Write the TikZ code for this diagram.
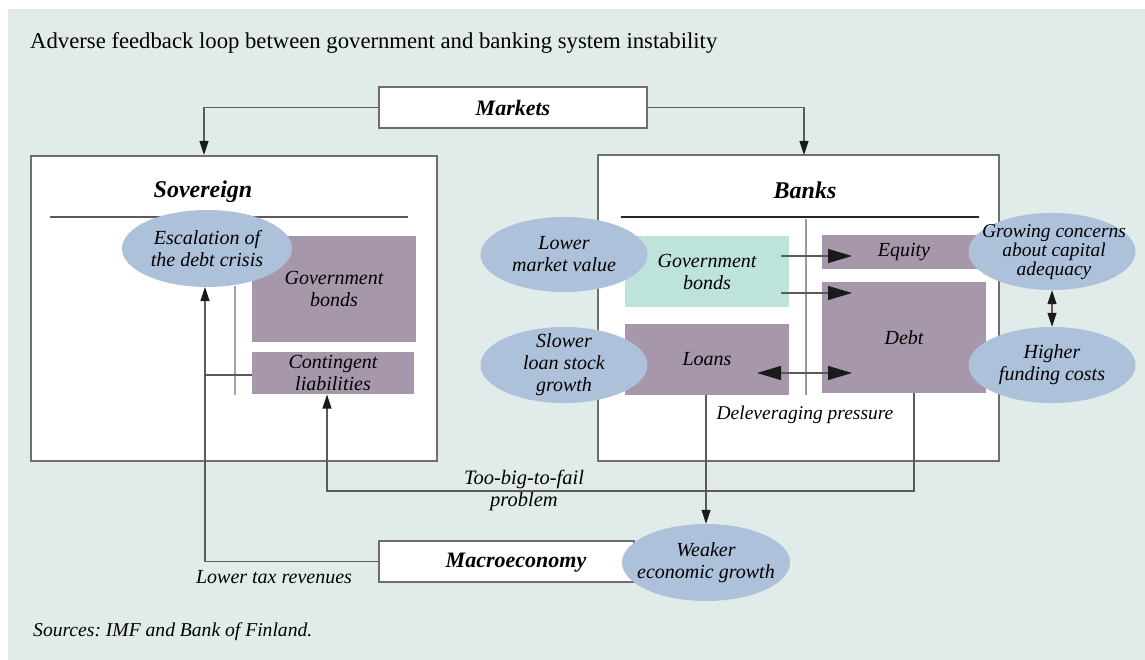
\documentclass[tikz,border=0pt]{standalone}
\usepackage{fontspec}
\setmainfont{Liberation Serif}
\usetikzlibrary{arrows.meta,shapes.geometric,calc}
\definecolor{bgc}{HTML}{E1EBEA}
\definecolor{ellc}{HTML}{ADC1DB}
\definecolor{purc}{HTML}{A797AB}
\definecolor{mintc}{HTML}{BDE3DA}
\definecolor{linec}{HTML}{5A5A5A}
\definecolor{boxc}{HTML}{6E6E6E}
\definecolor{tipc}{HTML}{1A1A1A}
\frenchspacing
\begin{document}
\begin{tikzpicture}[x=1pt,y=-1pt,
  frame/.style={draw=boxc, line width=1.3pt, fill=white, inner sep=0pt},
  hdr/.style={font=\fontsize{22}{26}\selectfont\bfseries\itshape},
  purbox/.style={fill=purc, inner sep=0pt, align=center, font=\fontsize{20}{22}\selectfont\itshape},
  mintbox/.style={fill=mintc, inner sep=0pt, align=center, font=\fontsize{20}{22}\selectfont\itshape},
  ell/.style={ellipse, fill=ellc, inner sep=0pt},
  etxt/.style={inner sep=0pt, align=center, font=\fontsize{20}{22}\selectfont\itshape},
  lbl/.style={inner sep=0pt, align=center, font=\fontsize{19.5}{22}\selectfont\itshape},
  conn/.style={draw=linec, line width=1.1pt},
  arrS/.style={conn, -{Triangle[length=14pt,width=9pt,color=tipc]}},
  arrB/.style={conn, -{Triangle[length=24pt,width=14pt,color=tipc]}},
  arrBB/.style={conn, {Triangle[length=24pt,width=14pt,color=tipc]}-{Triangle[length=24pt,width=14pt,color=tipc]}},
  arrSS/.style={conn, {Triangle[length=14pt,width=9pt,color=tipc]}-{Triangle[length=14pt,width=9pt,color=tipc]}}
]
\useasboundingbox (0,0) rectangle (1145,660);
\fill[white] (0,0) rectangle (1145,660);
\fill[bgc] (8,9) rectangle (1145,660);

% title and source
\node[anchor=base west, inner sep=0pt, font=\fontsize{22.7}{26}\selectfont] (title) at (30,48.5)
  {Adverse feedback loop between government and banking system instability};
\node[anchor=base west, inner sep=0pt, font=\fontsize{19.6}{22}\selectfont\itshape] (src) at (33,636)
  {Sources: IMF and Bank of Finland.};

% main frames
\node[frame, minimum width=268pt, minimum height=41pt, hdr] (markets) at (513,107.5) {Markets};
\node[frame, minimum width=406pt, minimum height=305pt] (sov) at (234,308.5) {};
\node[frame, minimum width=401pt, minimum height=306pt] (banks) at (798.5,308) {};

\node[hdr, font=\fontsize{24}{28}\selectfont\bfseries\itshape, anchor=base] (sovt) at (203,198) {Sovereign};
\node[hdr, font=\fontsize{24}{28}\selectfont\bfseries\itshape, anchor=base] (bankt) at (805,199) {Banks};

% sovereign internals
\draw[draw=linec, line width=1.1pt] (50,217) -- (408,217);
\draw[draw=black!35, line width=1.6pt] (235,286) -- (235,395);
\node[purbox, minimum width=164pt, minimum height=106pt] (sgb) at (334,289) {Government\\bonds};
\node[purbox, minimum width=162pt, minimum height=42pt] (cont) at (333,373) {Contingent\\liabilities};
\node[ell, minimum width=170pt, minimum height=77pt] (esc) at (207,248.5) {};
\node[etxt] (esc-t) at (esc) {Escalation of\\the debt crisis};

% banks internals
\draw[draw=black!85, line width=1.1pt] (621,217) -- (979,217);
\node[mintbox, minimum width=164pt, minimum height=71pt] (bgb) at (707,271.5) {Government\\bonds};
\node[purbox, minimum width=164pt, minimum height=71pt] (loans) at (707,359.5) {Loans};
\node[purbox, minimum width=164pt, minimum height=34pt] (equity) at (904,252) {Equity};
\node[purbox, minimum width=164pt, minimum height=111pt] (debt) at (904,337.5) {Debt};
\draw[draw=black!40, line width=1.6pt] (806,219) -- (806,395);

\node[ell, minimum width=167pt, minimum height=75pt] (lmv) at (564,254.5) {};
\node[etxt] (lmv-t) at (lmv) {Lower\\market value};
\node[ell, minimum width=167pt, minimum height=76pt] (slg) at (564,365) {};
\node[etxt] (slg-t) at (slg) {Slower\\loan stock\\growth};
\node[ell, minimum width=167pt, minimum height=77pt] (gcc) at (1052,251.5) {};
\node[etxt, font=\fontsize{19.5}{19}\selectfont\itshape] (gcc-t) at (1054,252) {Growing concerns\\about capital\\adequacy};
\node[ell, minimum width=167pt, minimum height=76pt] (hfc) at (1052,365) {};
\node[etxt] (hfc-t) at (hfc) {Higher\\funding costs};

% macroeconomy
\node[frame, minimum width=255pt, minimum height=41pt] (macro) at (506.5,561.5) {};
\node[hdr] (macro-t) at (516,563) {Macroeconomy};
\node[ell, minimum width=168pt, minimum height=77pt] (weg) at (706,562.5) {};
\node[etxt] (weg-t) at (weg) {Weaker\\economic growth};

% labels
\node[lbl] (delev) at (805,415) {Deleveraging pressure};
\node[lbl, anchor=base, font=\fontsize{20.5}{22}\selectfont\itshape] (tbtf1) at (524,484) {Too-big-to-fail};
\node[lbl, anchor=base, font=\fontsize{20.5}{22}\selectfont\itshape] (tbtf2) at (524,506) {problem};
\node[lbl, font=\fontsize{20}{22}\selectfont\itshape] (ltr) at (274,577) {Lower tax revenues};

% coordinates for connector ends
\coordinate (sovIn) at (204,155);
\coordinate (banksIn) at (804,155);
\coordinate (escIn) at (205,287);
\coordinate (contIn) at (327,394.5);
\coordinate (debtOut) at (914,393);
\coordinate (loansOut) at (706,395);
\coordinate (g1) at (781,256);
\coordinate (e1) at (852,256);
\coordinate (g2) at (781,293);
\coordinate (e2) at (852,293);
\coordinate (l1) at (757,373);
\coordinate (d1) at (852,373);

% connectors
\draw[arrS] (markets.west) -| (sovIn);
\draw[arrS] (markets.east) -| (banksIn);
\draw[arrB] (g1) -- (e1);
\draw[arrB] (g2) -- (e2);
\draw[arrBB] (l1) -- (d1);
\draw[arrSS] (gcc.south) -- (hfc.north);
\draw[arrS] (loansOut) -- (loansOut |- weg.north);
\draw[arrS] (debtOut) -- ++(0,98) -| (contIn);
\draw[arrS] (macro.west) -| (escIn);
\draw[conn] (escIn |- 0,375) -- (cont.west |- 0,375);
\end{tikzpicture}
\end{document}
